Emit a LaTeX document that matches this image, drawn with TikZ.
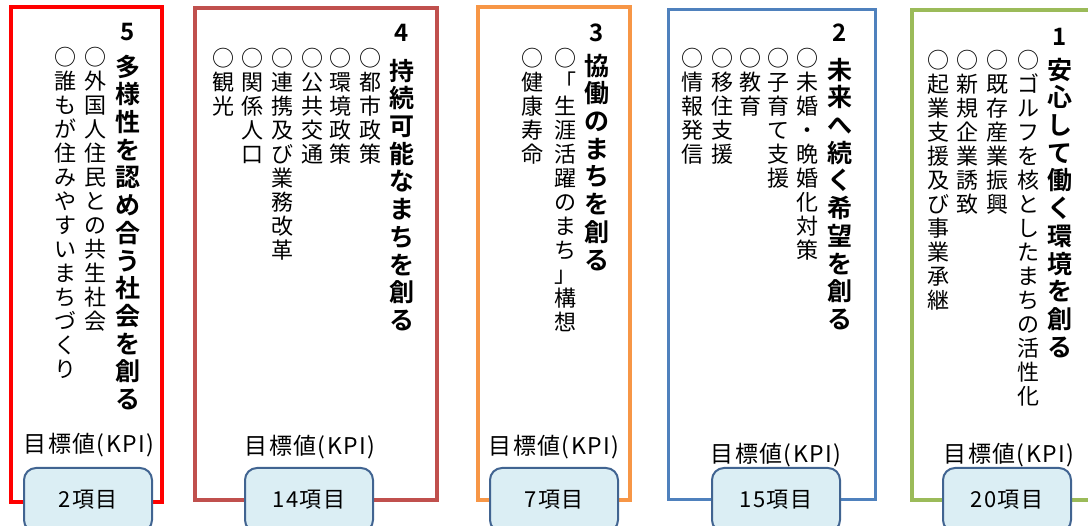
\documentclass[tikz,border=0pt]{standalone}
\usepackage{fontspec}
\setmainfont{Noto Sans CJK JP}[BoldFont={Noto Sans CJK JP Bold}]
\definecolor{goalfive}{RGB}{255, 0, 0}
\definecolor{goalfour}{RGB}{192, 80, 77}
\definecolor{goalthree}{RGB}{247, 150, 70}
\definecolor{goaltwo}{RGB}{79, 129, 189}
\definecolor{goalone}{RGB}{155, 187, 89}
\definecolor{kpifill}{RGB}{219, 238, 244}
\definecolor{kpiedge}{RGB}{65, 100, 145}
\usetikzlibrary{positioning}

% one character per line, top to bottom
\makeatletter
\newcommand\tate[2]{\vbox{\baselineskip=#1\lineskiplimit=-\maxdimen\lineskip=0pt
  \@tfor\tate@c:=#2\do{\hbox to 1em{\hss\vrule height .88em depth .12em width 0pt\tate@c\hss}}}}
\makeatother

\tikzset{
  panel/.style={draw=#1, line width=3.5pt},
  goalnum/.style={inner sep=0pt, font=\bfseries\fontsize{24}{27}\selectfont},
  goaltitle/.style={anchor=north, inner sep=0pt, font=\bfseries\fontsize{25}{27.7}\selectfont},
  goalitem/.style={anchor=north, inner sep=0pt, font=\fontsize{22}{24}\selectfont},
  kpilabel/.style={inner sep=0pt, font=\fontsize{23}{26}\selectfont\addfontfeature{LetterSpace=6}},
  kpibox/.style={draw=kpiedge, fill=kpifill, line width=2pt, rounded corners=12pt, minimum width=128pt, minimum height=64pt, inner sep=0pt, font=\fontsize{22}{24}\selectfont\addfontfeature{LetterSpace=6}}
}

\begin{document}
\begin{tikzpicture}[x=1pt, y=-1pt]
  \useasboundingbox (0, 0) rectangle (1088, 526);
  \clip (0, 0) rectangle (1088, 526);

  % 5: red
  \draw[panel=goalfive, line width=4pt] (11, 7) rectangle (162, 502);
  \node[goalnum] (num5) at (128, 32) {5};
  \node[goaltitle] (title5) at (128, 54) {\tate{27.7pt}{多様性を認め合う社会を創る}};
  \node[goalitem] (item5a) at (95, 46) {\tate{24pt}{○外国人住民との共生社会}};
  \node[goalitem] (item5b) at (65, 46) {\tate{24pt}{○誰もが住みやすいまちづくり}};
  \node[kpilabel] (label5) at (89, 445) {目標値(KPI)};
  \node[kpibox] (kpi5) at (88, 500) {2項目};

  % 4: dark red
  \draw[panel=goalfour] (195, 8) rectangle (437, 500);
  \node[goalnum] (num4) at (402, 33) {4};
  \node[goaltitle] (title4) at (402, 58) {\tate{27.7pt}{持続可能なまちを創る}};
  \node[goalitem] (item4a) at (370, 47) {\tate{24pt}{○都市政策}};
  \node[goalitem] (item4b) at (340, 47) {\tate{24pt}{○環境政策}};
  \node[goalitem] (item4c) at (312, 47) {\tate{24pt}{○公共交通}};
  \node[goalitem] (item4d) at (282, 47) {\tate{24pt}{○連携及び業務改革}};
  \node[goalitem] (item4e) at (252, 47) {\tate{24pt}{○関係人口}};
  \node[goalitem] (item4f) at (223, 47) {\tate{24pt}{○観光}};
  \node[kpilabel] (label4) at (310, 447) {目標値(KPI)};
  \node[kpibox] (kpi4) at (309, 500) {14項目};

  % 3: orange
  \draw[panel=goalthree] (478, 7) rectangle (630, 500);
  \node[goalnum] (num3) at (597, 33) {3};
  \node[goaltitle] (title3) at (597, 53) {\tate{27.7pt}{協働のまちを創る}};
  \node[goalitem] (item3a) at (565, 47) {\tate{24pt}{○「生涯活躍のまち」構想}};
  \node[goalitem] (item3b) at (532, 47) {\tate{24pt}{○健康寿命}};
  \node[kpilabel] (label3) at (554, 447) {目標値(KPI)};
  \node[kpibox] (kpi3) at (554, 500) {7項目};

  % 2: blue
  \draw[panel=goaltwo, line width=3pt] (668, 10) rectangle (875, 500);
  \node[goalnum] (num2) at (840, 33) {2};
  \node[goaltitle] (title2) at (840, 57) {\tate{27.7pt}{未来へ続く希望を創る}};
  \node[goalitem] (item2a) at (807, 47) {\tate{24pt}{○未婚・晩婚化対策}};
  \node[goalitem] (item2b) at (778, 47) {\tate{24pt}{○子育て支援}};
  \node[goalitem] (item2c) at (750, 47) {\tate{24pt}{○教育}};
  \node[goalitem] (item2d) at (722, 47) {\tate{24pt}{○移住支援}};
  \node[goalitem] (item2e) at (692, 47) {\tate{24pt}{○情報発信}};
  \node[kpilabel] (label2) at (776, 455) {目標値(KPI)};
  \node[kpibox] (kpi2) at (776, 500) {15項目};

  % 1: green
  \draw[panel=goalone] (912, 10) rectangle (1110, 500);
  \node[goalnum] (num1) at (1060, 37) {1};
  \node[goaltitle] (title1) at (1060, 57) {\tate{27.7pt}{安心して働く環境を創る}};
  \node[goalitem] (item1a) at (1028, 49) {\tate{24pt}{○ゴルフを核としたまちの活性化}};
  \node[goalitem] (item1b) at (997, 49) {\tate{24pt}{○既存産業振興}};
  \node[goalitem] (item1c) at (967, 49) {\tate{24pt}{○新規企業誘致}};
  \node[goalitem] (item1d) at (938, 49) {\tate{24pt}{○起業支援及び事業承継}};
  \node[kpilabel] (label1) at (1009, 455) {目標値(KPI)};
  \node[kpibox] (kpi1) at (1007, 500) {20項目};
\end{tikzpicture}
\end{document}
